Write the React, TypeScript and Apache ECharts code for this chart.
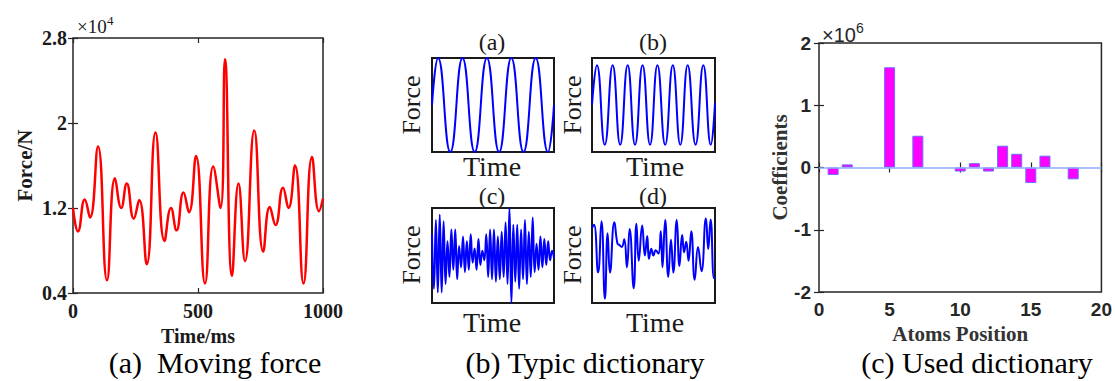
import React, { useEffect, useRef } from "react";
import * as echarts from "echarts";

// ---------- (a) Moving force ----------
const forceTime = [0, 20, 47, 68, 100, 136, 168, 193, 215, 243, 265, 295, 330, 366, 392, 414, 442, 464, 492, 528, 561, 590, 608, 636, 662, 688, 725, 761, 787, 810, 840, 862, 888, 922, 956, 984, 1000];
const forceValue = [1.2, 0.98, 1.28, 1.11, 1.78, 0.52, 1.48, 1.2, 1.43, 1.1, 1.275, 0.67, 1.91, 0.89, 1.2, 0.99, 1.345, 1.16, 1.69, 0.49, 1.59, 1.2, 2.6, 0.56, 1.43, 0.7, 1.93, 0.79, 1.21, 1.04, 1.39, 1.2, 1.6, 0.49, 1.68, 1.17, 1.29];
const forceXTicks = [0, 500, 1000];
const forceYTicks = [0.4, 1.2, 2, 2.8];

// ---------- (b) Typic dictionary ----------
const atomAX = [0, 5, 15, 25, 35, 45, 55, 65, 75, 85, 95, 100];
const atomAY = [0, 1, -1, 1, -1, 1, -1, 1, -1, 1, -1, 0];
const atomBX = [0, 4, 10.4, 16.8, 22.9, 29, 35, 41.1, 47.2, 53.2, 59.5, 65.7, 71.8, 77.8, 84.2, 90.5, 96.6, 100];
const atomBY = [0, 1, -1, 1, -1, 1, -1, 1, -1, 1, -1, 1, -1, 1, -1, 1, -1, 0.05];
const atomCY = [0.45, -0.7, 0.75, -0.78, 0.86, -0.78, 0.72, -0.6, 0.3, -0.45, 0.55, -0.3, 0.55, -0.5, 0.2, -0.25,
  0.4, -0.35, 0.3, -0.3, 0.45, -0.15, 0.15, -0.3, 0.35, -0.2, 0.1, -0.1, 0.45, -0.45, 0.55, -0.5,
  0.55, -0.55, 0.4, -0.5, 0.5, -0.45, 0.7, -0.6, 1.0, -1.0, 0.65, -0.55, 0.65, -0.7, 0.55, -0.5,
  0.75, -0.6, 0.5, -0.45, 0.8, -0.35, 0.25, -0.3, 0.4, -0.25, 0.35, -0.2, 0.3, -0.1, 0.1, -0.05];
const atomDX = [0, 1.65, 4.96, 7.7, 10.5, 12.7, 14.6, 18.2, 20.7, 22.3, 24.2, 26.2, 28.4, 30.6, 33.9, 36.1, 38.0, 40.8, 43.0, 44.9, 46.3, 48.2, 49.9, 51.8, 54, 55.9, 57.3, 59.5, 62.0, 64.2, 66.1, 68.9, 71.1, 73.3, 74.9, 76.6, 78.5, 80.7, 83.5, 86.2, 89.0, 92.6, 94.5, 96.4, 99.2, 100];
const atomDY = [0.58, 0.65, -0.36, 0.72, -0.91, 0.47, -0.36, 0.7, 0.25, 0.22, 0.18, 0.34, -0.25, 0.56, -0.69, 0.67, -0.11, 0.63, 0.0, 0.41, -0.07, 0.14, 0.0, 0.11, 0.04, 0.51, -0.25, 0.75, -0.45, 0.33, -0.36, 0.75, -0.22, 0.43, 0.07, 0.29, -0.11, 0.51, -0.51, 0.18, -0.33, 0.78, 0.14, 0.76, -0.48, -0.45];
const atomTitles = ["(a)", "(b)", "(c)", "(d)"];

// ---------- (c) Used dictionary ----------
const atomPosition = [1, 2, 5, 7, 10, 11, 12, 13, 14, 15, 16, 18];
const coefficient = [-0.12, 0.05, 1.61, 0.51, -0.065, 0.07, -0.065, 0.35, 0.22, -0.25, 0.19, -0.19];
const coefXTicks = [0, 5, 10, 15, 20];
const coefYTicks = [-2, -1, 0, 1, 2];

const captions = ["(a)  Moving force", "(b) Typic dictionary", "(c) Used dictionary"];

const serif = "'Liberation Serif', 'Times New Roman', serif";
const sans = "'Liberation Sans', Arial, sans-serif";
const axisDark = "#262626";

function zip(xs: number[], ys: number[]) {
  return xs.map((x, i) => [x, ys[i]]);
}

export default function App() {
  const ref = useRef<HTMLDivElement>(null);
  useEffect(() => {
    if (!ref.current) return;
    const chart = echarts.init(ref.current, undefined, { renderer: "svg" });

    const boxGrid = (left: number, top: number, width: number, height: number, bw = 2, color = "#1a1a1a") => ({
      left, top, width, height, show: true, borderColor: color, borderWidth: bw, backgroundColor: "transparent", containLabel: false,
    });

    const tickInside = { show: true, inside: true, length: 5, lineStyle: { color: axisDark, width: 1.2 } };
    const hiddenAxis = (gridIndex: number, min: number, max: number) => ({
      type: "value", gridIndex, min, max, show: false, splitLine: { show: false },
    });

    const fA = forceYTicks;
    const cY = coefYTicks;
    const plain = (v: number) => String(Math.round(v * 10) / 10);

    const option: any = {
      animation: false,
      backgroundColor: "#ffffff",
      grid: [
        boxGrid(73, 38, 250, 255, 1.5, axisDark),
        boxGrid(432, 58, 122, 94),
        boxGrid(592, 58, 123, 94),
        boxGrid(432, 208, 122, 95),
        boxGrid(592, 208, 123, 95),
        boxGrid(819, 43, 284, 249, 1.5, axisDark),
      ],
      xAxis: [
        {
          type: "value", gridIndex: 0, position: "bottom",
          min: forceXTicks[0], max: forceXTicks[forceXTicks.length - 1], interval: forceXTicks[1] - forceXTicks[0],
          axisLine: { show: false }, axisTick: tickInside, splitLine: { show: false },
          axisLabel: { fontFamily: serif, fontWeight: "bold", fontSize: 20, color: "#1a1a1a", margin: 8, formatter: plain },
          name: "Time/ms", nameLocation: "middle", nameGap: 33,
          nameTextStyle: { fontFamily: serif, fontWeight: "bold", fontSize: 20, color: "#1a1a1a" },
        },
        {
          type: "value", gridIndex: 0, position: "top",
          min: forceXTicks[0], max: forceXTicks[forceXTicks.length - 1], interval: forceXTicks[1] - forceXTicks[0],
          axisLine: { show: false }, axisTick: tickInside, axisLabel: { show: false }, splitLine: { show: false },
        },
        hiddenAxis(1, 0, 100),
        hiddenAxis(2, 0, 100),
        hiddenAxis(3, 0, 100),
        hiddenAxis(4, 0, 100),
        {
          type: "value", gridIndex: 5, position: "bottom",
          min: coefXTicks[0], max: coefXTicks[coefXTicks.length - 1], interval: coefXTicks[1] - coefXTicks[0],
          axisLine: { show: false }, axisTick: tickInside, splitLine: { show: false },
          axisLabel: { fontFamily: sans, fontWeight: "bold", fontSize: 19, color: axisDark, margin: 8, formatter: plain },
          name: "Atoms Position", nameLocation: "middle", nameGap: 27,
          nameTextStyle: { fontFamily: serif, fontWeight: "bold", fontSize: 21, color: "#333" },
        },
        {
          type: "value", gridIndex: 5, position: "top",
          min: coefXTicks[0], max: coefXTicks[coefXTicks.length - 1], interval: coefXTicks[1] - coefXTicks[0],
          axisLine: { show: false }, axisTick: tickInside, axisLabel: { show: false }, splitLine: { show: false },
        },
      ],
      yAxis: [
        {
          type: "value", gridIndex: 0, position: "left",
          min: fA[0], max: fA[fA.length - 1], interval: fA[1] - fA[0],
          axisLine: { show: false }, axisTick: tickInside, splitLine: { show: false },
          axisLabel: { fontFamily: serif, fontWeight: "bold", fontSize: 20, color: "#1a1a1a", margin: 6, formatter: plain },
          name: "Force/N", nameLocation: "middle", nameGap: 38,
          nameTextStyle: { fontFamily: serif, fontWeight: "bold", fontSize: 21, color: "#1a1a1a" },
        },
        {
          type: "value", gridIndex: 0, position: "right",
          min: fA[0], max: fA[fA.length - 1], interval: fA[1] - fA[0],
          axisLine: { show: false }, axisTick: tickInside, axisLabel: { show: false }, splitLine: { show: false },
        },
        hiddenAxis(1, -1, 1),
        hiddenAxis(2, -1.18, 1.18),
        hiddenAxis(3, -1, 1),
        hiddenAxis(4, -1, 1),
        {
          type: "value", gridIndex: 5, position: "left",
          min: cY[0], max: cY[cY.length - 1], interval: cY[1] - cY[0],
          axisLine: { show: false }, axisTick: tickInside, splitLine: { show: false },
          axisLabel: { fontFamily: sans, fontWeight: "bold", fontSize: 19, color: axisDark, margin: 8, formatter: plain },
          name: "Coefficients", nameLocation: "middle", nameGap: 17,
          nameTextStyle: { fontFamily: serif, fontWeight: "bold", fontSize: 21, color: "#333" },
        },
        {
          type: "value", gridIndex: 5, position: "right",
          min: cY[0], max: cY[cY.length - 1], interval: cY[1] - cY[0],
          axisLine: { show: false }, axisTick: tickInside, axisLabel: { show: false }, splitLine: { show: false },
        },
      ],
      series: [
        {
          type: "line", xAxisIndex: 0, yAxisIndex: 0, data: zip(forceTime, forceValue),
          smooth: 0.5, symbol: "none", lineStyle: { color: "#ff0000", width: 2.5 },
        },
        {
          type: "line", xAxisIndex: 2, yAxisIndex: 2, data: zip(atomAX, atomAY),
          smooth: 0.5, symbol: "none", lineStyle: { color: "#0000ff", width: 2 },
        },
        {
          type: "line", xAxisIndex: 3, yAxisIndex: 3, data: zip(atomBX, atomBY),
          smooth: 0.5, symbol: "none", lineStyle: { color: "#0000ff", width: 2 },
        },
        {
          type: "line", xAxisIndex: 4, yAxisIndex: 4,
          data: atomCY.map((v, i) => [(i / (atomCY.length - 1)) * 100, v]),
          smooth: 0.5, symbol: "none", lineStyle: { color: "#0000ff", width: 2 },
        },
        {
          type: "line", xAxisIndex: 5, yAxisIndex: 5, data: zip(atomDX, atomDY),
          smooth: 0.5, symbol: "none", lineStyle: { color: "#0000ff", width: 2 },
        },
        {
          type: "bar", xAxisIndex: 6, yAxisIndex: 6, data: zip(atomPosition, coefficient),
          barWidth: 11,
          itemStyle: { color: "#ff00ff", borderColor: "#6b6bff", borderWidth: 1 },
          markLine: {
            silent: true, symbol: ["none", "none"], label: { show: false },
            lineStyle: { color: "#8fa8ff", width: 1.5, type: "solid" },
            data: [{ yAxis: 0 }],
          },
        },
      ],
      graphic: [
        // multipliers
        { type: "text", x: 77, y: 26.5, style: { text: "×10", fontFamily: serif, fontSize: 19, fill: "#1a1a1a", textVerticalAlign: "middle" } },
        { type: "text", x: 107, y: 20, style: { text: "4", fontFamily: serif, fontSize: 13, fill: "#1a1a1a", textVerticalAlign: "middle" } },
        { type: "text", x: 822, y: 34.5, style: { text: "×10", fontFamily: sans, fontSize: 20, fill: axisDark, textVerticalAlign: "middle" } },
        { type: "text", x: 856, y: 28, style: { text: "6", fontFamily: sans, fontSize: 14, fill: axisDark, textVerticalAlign: "middle" } },
        // dictionary subplot titles
        ...[[492, 42], [653, 42], [492, 196], [653, 196]].map(([x, y], i) => ({
          type: "text", x, y, style: { text: atomTitles[i], fontFamily: serif, fontSize: 24, fill: "#1a1a1a", textAlign: "center", textVerticalAlign: "middle" },
        })),
        ...[[411, 105], [572, 105], [411, 255], [572, 255]].map(([x, y]) => ({
          type: "text", x, y, rotation: Math.PI / 2,
          style: { text: "Force", fontFamily: serif, fontSize: 26, fill: "#1a1a1a", textAlign: "center", textVerticalAlign: "middle" },
        })),
        ...[[492, 166], [655, 166], [492, 322], [655, 322]].map(([x, y]) => ({
          type: "text", x, y,
          style: { text: "Time", fontFamily: serif, fontSize: 28, fill: "#1a1a1a", textAlign: "center", textVerticalAlign: "middle" },
        })),
        // captions
        ...[[215, 362], [585, 362], [977, 362]].map(([x, y], i) => ({
          type: "text", x, y,
          style: { text: captions[i], fontFamily: serif, fontSize: 30, fill: "#000", textAlign: "center", textVerticalAlign: "middle" },
        })),
      ],
    };

    chart.setOption(option);
    return () => chart.dispose();
  }, []);

  return (
    <div
      ref={ref}
      style={{ position: "fixed", left: 0, top: 0, width: 1115, height: 381, background: "#fff" }}
    />
  );
}
